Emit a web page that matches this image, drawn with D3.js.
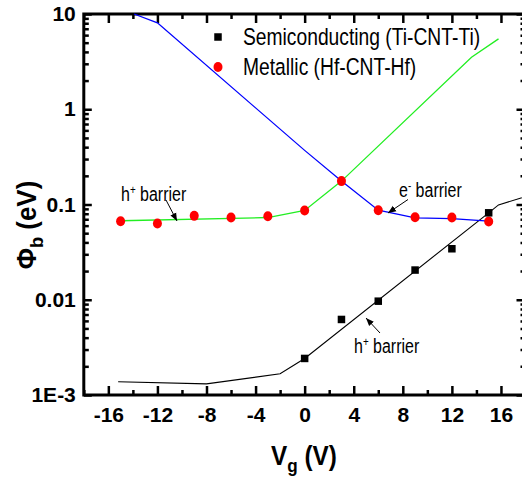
<!DOCTYPE html>
<html>
<head>
<meta charset="utf-8">
<script src="https://cdn.jsdelivr.net/npm/d3@7"></script>
<style>
  body { margin: 0; background: #fff; }
  svg { display: block; }
</style>
</head>
<body>
<div id="chart"></div>
<script>
// Schottky barrier height vs gate voltage
const metalVg = [-15, -12, -9, -6, -3, 0, 3, 6, 9, 12, 15];
const metalPhi = [0.0668, 0.0632, 0.076, 0.073, 0.0753, 0.0865, 0.176, 0.0872, 0.0736, 0.073, 0.0663];

const semiVg = [0, 3, 6, 9, 12, 15];
const semiPhi = [0.00242, 0.00621, 0.00966, 0.0205, 0.0343, 0.0818];

// fitted curves
const holeFitVg = [-15, -3, 0, 3, 13.6, 15.8];
const holeFitPhi = [0.0675, 0.073, 0.0865, 0.176, 3.51, 5.48];
const elecFitVg = [-13.9, -12, 0, 3, 6, 9, 12, 15];
const elecFitPhi = [10, 8.07, 0.37, 0.176, 0.087, 0.0725, 0.0712, 0.067];
const semiFitVg = [-15.2, -8, -2, 0, 15, 15.8, 17.7];
const semiFitPhi = [0.00138, 0.00131, 0.00167, 0.00242, 0.0818, 0.099, 0.1175];

const xMajor = [-16, -12, -8, -4, 0, 4, 8, 12, 16];
const xMinor = [-18, -14, -10, -6, -2, 2, 6, 10, 14, 18];
const yMajor = [1e-3, 0.01, 0.1, 1, 10];
const yLabels = ["1E-3", "0.01", "0.1", "1", "10"];

const legendNames = ["Semiconducting (Ti-CNT-Ti)", "Metallic (Hf-CNT-Hf)"];

const width = 522, height = 477;
const FONT = "'Liberation Sans', Arial, sans-serif";
const NARROW = 0.82; // the original uses a condensed face

const svg = d3.select("#chart").append("svg")
    .attr("width", width)
    .attr("height", height)
    .style("font-family", FONT);

const x = d3.scaleLinear().domain([-18, 18]).range([83.8, 525.5]);
const y = d3.scaleLog().domain([1e-3, 10]).range([395, 14]);

// minor log ticks 2..9 per decade
const yMinor = [];
for (let d = -3; d < 1; d++) {
    for (let m = 2; m <= 9; m++) yMinor.push(m * Math.pow(10, d));
}

function styleAxis(g) {
    g.select(".domain").remove();
    g.selectAll(".tick line").attr("stroke", "#000").attr("stroke-width", 2.5);
}

// bottom
svg.append("g").attr("transform", `translate(0,${y.range()[0]})`)
    .call(d3.axisBottom(x).tickValues(xMinor).tickSize(-5).tickFormat(""))
    .call(styleAxis);
svg.append("g").attr("transform", `translate(0,${y.range()[0]})`)
    .call(d3.axisBottom(x).tickValues(xMajor).tickSize(-9).tickPadding(12).tickFormat(d => String(d)))
    .call(styleAxis)
    .call(g => g.selectAll("text").attr("font-size", 21).attr("font-weight", "bold")
        .attr("fill", "#000").style("font-family", FONT));

// top
svg.append("g").attr("transform", `translate(0,${y.range()[1]})`)
    .call(d3.axisTop(x).tickValues(xMinor).tickSize(-5).tickFormat(""))
    .call(styleAxis);
svg.append("g").attr("transform", `translate(0,${y.range()[1]})`)
    .call(d3.axisTop(x).tickValues(xMajor).tickSize(-9).tickFormat(""))
    .call(styleAxis);

// left
svg.append("g").attr("transform", `translate(${x.range()[0]},0)`)
    .call(d3.axisLeft(y).tickValues(yMinor).tickSize(-5).tickFormat(""))
    .call(styleAxis);
svg.append("g").attr("transform", `translate(${x.range()[0]},0)`)
    .call(d3.axisLeft(y).tickValues(yMajor).tickSize(-8).tickPadding(8)
        .tickFormat((d, i) => yLabels[i]))
    .call(styleAxis)
    .call(g => g.selectAll("text").attr("font-size", 21).attr("font-weight", "bold")
        .attr("fill", "#000").style("font-family", FONT));

// right (mostly cut off by the picture edge)
svg.append("g").attr("transform", `translate(${x.range()[1]},0)`)
    .call(d3.axisRight(y).tickValues(yMinor).tickSize(-5).tickFormat(""))
    .call(styleAxis);
svg.append("g").attr("transform", `translate(${x.range()[1]},0)`)
    .call(d3.axisRight(y).tickValues(yMajor).tickSize(-9).tickFormat(""))
    .call(styleAxis);

// frame
svg.append("rect")
    .attr("x", x.range()[0]).attr("y", y.range()[1])
    .attr("width", x.range()[1] - x.range()[0])
    .attr("height", y.range()[0] - y.range()[1])
    .attr("fill", "none").attr("stroke", "#000").attr("stroke-width", 3);

// curves
const line = d3.line().x(d => x(d[0])).y(d => y(d[1]));
const zip = (a, b) => a.map((v, i) => [v, b[i]]);

svg.append("path").datum(zip(semiFitVg, semiFitPhi))
    .attr("d", line).attr("fill", "none").attr("stroke", "#000").attr("stroke-width", 1.1);
svg.append("path").datum(zip(holeFitVg, holeFitPhi))
    .attr("d", line).attr("fill", "none").attr("stroke", "#22ee22").attr("stroke-width", 1.3);
svg.append("path").datum(zip(elecFitVg, elecFitPhi))
    .attr("d", line).attr("fill", "none").attr("stroke", "#0000ff").attr("stroke-width", 1.3);

// markers
svg.append("g").selectAll("ellipse")
    .data(zip(metalVg, metalPhi))
    .enter().append("ellipse")
    .attr("cx", d => x(d[0])).attr("cy", d => y(d[1]))
    .attr("rx", 4.5).attr("ry", 5)
    .attr("fill", "#ff0000");

const sq = 7.5;
svg.append("g").selectAll("rect")
    .data(zip(semiVg, semiPhi))
    .enter().append("rect")
    .attr("x", d => x(d[0]) - sq / 2).attr("y", d => y(d[1]) - sq / 2)
    .attr("width", sq).attr("height", sq)
    .attr("fill", "#000");

// text squeezed sideways, anchored at (tx, ty)
function narrowText(tx, ty, size, sx) {
    return svg.append("text")
        .attr("transform", `translate(${tx},${ty}) scale(${sx},1)`)
        .attr("font-size", size);
}

// legend
const legend = svg.append("g").attr("transform", "translate(218,37)");
legend.append("rect").attr("x", -sq / 2).attr("y", -sq / 2).attr("width", sq).attr("height", sq).attr("fill", "#000");
legend.append("ellipse").attr("cx", 0).attr("cy", 30).attr("rx", 4.5).attr("ry", 5).attr("fill", "#ff0000");
legendNames.forEach((name, i) => {
    narrowText(243, 45 + i * 30, 23.5, NARROW).text(name);
});

// annotations
svg.append("defs").append("marker")
    .attr("id", "arrow")
    .attr("viewBox", "0 0 10 10")
    .attr("refX", 10).attr("refY", 5)
    .attr("markerWidth", 8).attr("markerHeight", 8)
    .attr("markerUnits", "userSpaceOnUse")
    .attr("orient", "auto")
    .append("path").attr("d", "M0,1 L10,5 L0,9 Z").attr("fill", "#000");

function note(tx, ty, sup, ax1, ay1, ax2, ay2) {
    const t = narrowText(tx, ty, 19.5, NARROW);
    t.append("tspan").text(sup[0]);
    t.append("tspan").attr("dy", -7).attr("font-size", 12).text(sup[1]);
    t.append("tspan").attr("dy", 7).text(" barrier");
    svg.append("line")
        .attr("x1", ax1).attr("y1", ay1).attr("x2", ax2).attr("y2", ay2)
        .attr("stroke", "#000").attr("stroke-width", 1)
        .attr("marker-end", "url(#arrow)");
}
note(121, 201, ["h", "+"], 166, 200, 177, 221);
note(399, 197, ["e", "-"], 408, 199.5, 388, 213);
note(354, 353, ["h", "+"], 380, 333, 366, 318);

// axis titles
const xt = narrowText(304, 465, 27, 0.9)
    .attr("text-anchor", "middle").attr("font-weight", "bold");
xt.append("tspan").text("V");
xt.append("tspan").attr("dy", 7).attr("font-size", 19).text("g");
xt.append("tspan").attr("dy", -7).text(" (V)");

const yt = svg.append("text")
    .attr("transform", "translate(36,225) rotate(-90) scale(0.96,1)")
    .attr("text-anchor", "middle")
    .attr("font-size", 27).attr("font-weight", "bold");
yt.append("tspan").text("Φ");
yt.append("tspan").attr("dy", 7).attr("font-size", 19).text("b");
yt.append("tspan").attr("dy", -7).text(" (eV)");
</script>
</body>
</html>
